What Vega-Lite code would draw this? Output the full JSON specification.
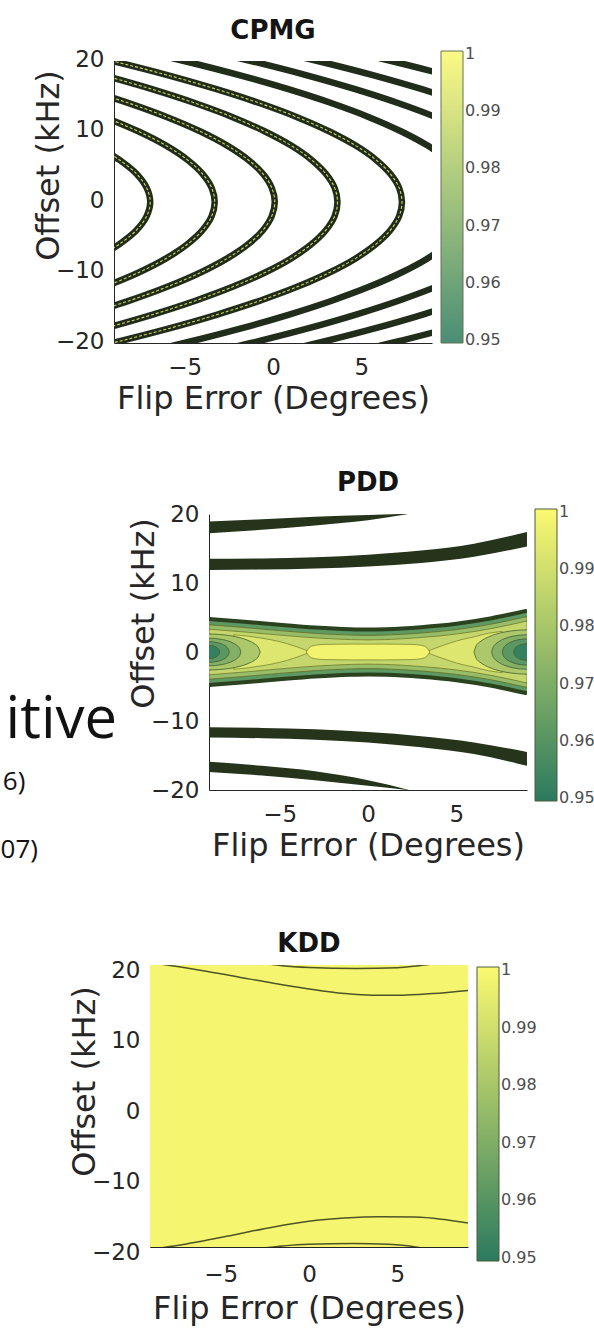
{
  "$schema": "https://vega.github.io/schema/vega-lite/v6.json",
  "padding": {"left": 0, "top": 18, "right": 0, "bottom": 6},
  "spacing": 0,
  "resolve": {"scale": {"color": "independent"}, "legend": {"color": "independent"}},
  "datasets": {
    "cpmg": [
      {"curve": "arc1", "x": -9.35, "y": -7, "fidelity": 0.998},
      {"curve": "arc1", "x": -8.71, "y": -6, "fidelity": 0.998},
      {"curve": "arc1", "x": -7.73, "y": -4, "fidelity": 0.998},
      {"curve": "arc1", "x": -7.15, "y": -2, "fidelity": 0.998},
      {"curve": "arc1", "x": -6.95, "y": 0, "fidelity": 0.998},
      {"curve": "arc1", "x": -7.15, "y": 2, "fidelity": 0.998},
      {"curve": "arc1", "x": -7.73, "y": 4, "fidelity": 0.998},
      {"curve": "arc1", "x": -8.71, "y": 6, "fidelity": 0.998},
      {"curve": "arc1", "x": -9.35, "y": 7, "fidelity": 0.998},

      {"curve": "arc2", "x": -9.49, "y": -12, "fidelity": 0.998},
      {"curve": "arc2", "x": -7.6, "y": -10, "fidelity": 0.998},
      {"curve": "arc2", "x": -6.05, "y": -8, "fidelity": 0.998},
      {"curve": "arc2", "x": -4.85, "y": -6, "fidelity": 0.998},
      {"curve": "arc2", "x": -3.99, "y": -4, "fidelity": 0.998},
      {"curve": "arc2", "x": -3.47, "y": -2, "fidelity": 0.998},
      {"curve": "arc2", "x": -3.3, "y": 0, "fidelity": 0.998},
      {"curve": "arc2", "x": -3.47, "y": 2, "fidelity": 0.998},
      {"curve": "arc2", "x": -3.99, "y": 4, "fidelity": 0.998},
      {"curve": "arc2", "x": -4.85, "y": 6, "fidelity": 0.998},
      {"curve": "arc2", "x": -6.05, "y": 8, "fidelity": 0.998},
      {"curve": "arc2", "x": -7.6, "y": 10, "fidelity": 0.998},
      {"curve": "arc2", "x": -9.49, "y": 12, "fidelity": 0.998},

      {"curve": "arc3", "x": -10.65, "y": -16, "fidelity": 0.998},
      {"curve": "arc3", "x": -8.13, "y": -14, "fidelity": 0.998},
      {"curve": "arc3", "x": -5.95, "y": -12, "fidelity": 0.998},
      {"curve": "arc3", "x": -4.1, "y": -10, "fidelity": 0.998},
      {"curve": "arc3", "x": -2.59, "y": -8, "fidelity": 0.998},
      {"curve": "arc3", "x": -1.41, "y": -6, "fidelity": 0.998},
      {"curve": "arc3", "x": -0.57, "y": -4, "fidelity": 0.998},
      {"curve": "arc3", "x": -0.07, "y": -2, "fidelity": 0.998},
      {"curve": "arc3", "x": 0.1, "y": 0, "fidelity": 0.998},
      {"curve": "arc3", "x": -0.07, "y": 2, "fidelity": 0.998},
      {"curve": "arc3", "x": -0.57, "y": 4, "fidelity": 0.998},
      {"curve": "arc3", "x": -1.41, "y": 6, "fidelity": 0.998},
      {"curve": "arc3", "x": -2.59, "y": 8, "fidelity": 0.998},
      {"curve": "arc3", "x": -4.1, "y": 10, "fidelity": 0.998},
      {"curve": "arc3", "x": -5.95, "y": 12, "fidelity": 0.998},
      {"curve": "arc3", "x": -8.13, "y": 14, "fidelity": 0.998},
      {"curve": "arc3", "x": -10.65, "y": 16, "fidelity": 0.998},

      {"curve": "arc4", "x": -9.63, "y": -18, "fidelity": 0.998},
      {"curve": "arc4", "x": -6.85, "y": -16, "fidelity": 0.998},
      {"curve": "arc4", "x": -4.39, "y": -14, "fidelity": 0.998},
      {"curve": "arc4", "x": -2.25, "y": -12, "fidelity": 0.998},
      {"curve": "arc4", "x": -0.45, "y": -10, "fidelity": 0.998},
      {"curve": "arc4", "x": 1.03, "y": -8, "fidelity": 0.998},
      {"curve": "arc4", "x": 2.17, "y": -6, "fidelity": 0.998},
      {"curve": "arc4", "x": 2.99, "y": -4, "fidelity": 0.998},
      {"curve": "arc4", "x": 3.49, "y": -2, "fidelity": 0.998},
      {"curve": "arc4", "x": 3.65, "y": 0, "fidelity": 0.998},
      {"curve": "arc4", "x": 3.49, "y": 2, "fidelity": 0.998},
      {"curve": "arc4", "x": 2.99, "y": 4, "fidelity": 0.998},
      {"curve": "arc4", "x": 2.17, "y": 6, "fidelity": 0.998},
      {"curve": "arc4", "x": 1.03, "y": 8, "fidelity": 0.998},
      {"curve": "arc4", "x": -0.45, "y": 10, "fidelity": 0.998},
      {"curve": "arc4", "x": -2.25, "y": 12, "fidelity": 0.998},
      {"curve": "arc4", "x": -4.39, "y": 14, "fidelity": 0.998},
      {"curve": "arc4", "x": -6.85, "y": 16, "fidelity": 0.998},
      {"curve": "arc4", "x": -9.63, "y": 18, "fidelity": 0.998},

      {"curve": "arc5", "x": -12.54, "y": -22, "fidelity": 0.998},
      {"curve": "arc5", "x": -9.1, "y": -20, "fidelity": 0.998},
      {"curve": "arc5", "x": -5.98, "y": -18, "fidelity": 0.998},
      {"curve": "arc5", "x": -3.2, "y": -16, "fidelity": 0.998},
      {"curve": "arc5", "x": -0.74, "y": -14, "fidelity": 0.998},
      {"curve": "arc5", "x": 1.4, "y": -12, "fidelity": 0.998},
      {"curve": "arc5", "x": 3.2, "y": -10, "fidelity": 0.998},
      {"curve": "arc5", "x": 4.68, "y": -8, "fidelity": 0.998},
      {"curve": "arc5", "x": 5.82, "y": -6, "fidelity": 0.998},
      {"curve": "arc5", "x": 6.64, "y": -4, "fidelity": 0.998},
      {"curve": "arc5", "x": 7.14, "y": -2, "fidelity": 0.998},
      {"curve": "arc5", "x": 7.3, "y": 0, "fidelity": 0.998},
      {"curve": "arc5", "x": 7.14, "y": 2, "fidelity": 0.998},
      {"curve": "arc5", "x": 6.64, "y": 4, "fidelity": 0.998},
      {"curve": "arc5", "x": 5.82, "y": 6, "fidelity": 0.998},
      {"curve": "arc5", "x": 4.68, "y": 8, "fidelity": 0.998},
      {"curve": "arc5", "x": 3.2, "y": 10, "fidelity": 0.998},
      {"curve": "arc5", "x": 1.4, "y": 12, "fidelity": 0.998},
      {"curve": "arc5", "x": -0.74, "y": 14, "fidelity": 0.998},
      {"curve": "arc5", "x": -3.2, "y": 16, "fidelity": 0.998},
      {"curve": "arc5", "x": -5.98, "y": 18, "fidelity": 0.998},
      {"curve": "arc5", "x": -9.1, "y": 20, "fidelity": 0.998},
      {"curve": "arc5", "x": -12.54, "y": 22, "fidelity": 0.998},

      {"curve": "edgeA", "x": -8.47, "y": -22},
      {"curve": "edgeA", "x": -5.03, "y": -20},
      {"curve": "edgeA", "x": -1.91, "y": -18},
      {"curve": "edgeA", "x": 0.87, "y": -16},
      {"curve": "edgeA", "x": 3.33, "y": -14},
      {"curve": "edgeA", "x": 5.47, "y": -12},
      {"curve": "edgeA", "x": 7.27, "y": -10},
      {"curve": "edgeA", "x": 8.75, "y": -8},
      {"curve": "edgeA", "x": 9.89, "y": -6},
      {"curve": "edgeA", "x": 10.71, "y": -4},
      {"curve": "edgeA", "x": 11.37, "y": 0},
      {"curve": "edgeA", "x": 10.71, "y": 4},
      {"curve": "edgeA", "x": 9.89, "y": 6},
      {"curve": "edgeA", "x": 8.75, "y": 8},
      {"curve": "edgeA", "x": 7.27, "y": 10},
      {"curve": "edgeA", "x": 5.47, "y": 12},
      {"curve": "edgeA", "x": 3.33, "y": 14},
      {"curve": "edgeA", "x": 0.87, "y": 16},
      {"curve": "edgeA", "x": -1.91, "y": 18},
      {"curve": "edgeA", "x": -5.03, "y": 20},
      {"curve": "edgeA", "x": -8.47, "y": 22},

      {"curve": "edgeB", "x": -4.69, "y": -22},
      {"curve": "edgeB", "x": -1.25, "y": -20},
      {"curve": "edgeB", "x": 1.87, "y": -18},
      {"curve": "edgeB", "x": 4.65, "y": -16},
      {"curve": "edgeB", "x": 7.11, "y": -14},
      {"curve": "edgeB", "x": 9.25, "y": -12},
      {"curve": "edgeB", "x": 11.05, "y": -10},
      {"curve": "edgeB", "x": 15.15, "y": 0},
      {"curve": "edgeB", "x": 11.05, "y": 10},
      {"curve": "edgeB", "x": 9.25, "y": 12},
      {"curve": "edgeB", "x": 7.11, "y": 14},
      {"curve": "edgeB", "x": 4.65, "y": 16},
      {"curve": "edgeB", "x": 1.87, "y": 18},
      {"curve": "edgeB", "x": -1.25, "y": 20},
      {"curve": "edgeB", "x": -4.69, "y": 22},

      {"curve": "edgeC", "x": -0.91, "y": -22},
      {"curve": "edgeC", "x": 2.53, "y": -20},
      {"curve": "edgeC", "x": 5.65, "y": -18},
      {"curve": "edgeC", "x": 8.43, "y": -16},
      {"curve": "edgeC", "x": 10.89, "y": -14},
      {"curve": "edgeC", "x": 13.03, "y": -12},
      {"curve": "edgeC", "x": 18.93, "y": 0},
      {"curve": "edgeC", "x": 13.03, "y": 12},
      {"curve": "edgeC", "x": 10.89, "y": 14},
      {"curve": "edgeC", "x": 8.43, "y": 16},
      {"curve": "edgeC", "x": 5.65, "y": 18},
      {"curve": "edgeC", "x": 2.53, "y": 20},
      {"curve": "edgeC", "x": -0.91, "y": 22},

      {"curve": "edgeD", "x": 3.26, "y": -22},
      {"curve": "edgeD", "x": 6.7, "y": -20},
      {"curve": "edgeD", "x": 9.82, "y": -18},
      {"curve": "edgeD", "x": 12.6, "y": -16},
      {"curve": "edgeD", "x": 15.06, "y": -14},
      {"curve": "edgeD", "x": 23.1, "y": 0},
      {"curve": "edgeD", "x": 15.06, "y": 14},
      {"curve": "edgeD", "x": 12.6, "y": 16},
      {"curve": "edgeD", "x": 9.82, "y": 18},
      {"curve": "edgeD", "x": 6.7, "y": 20},
      {"curve": "edgeD", "x": 3.26, "y": 22}
    ],
    "pdd": [
      {"shape": "band1", "x": -9, "y": 18.9, "y2": 17.2},
      {"shape": "band1", "x": -6, "y": 19.25, "y2": 17.7},
      {"shape": "band1", "x": -3, "y": 19.6, "y2": 18.35},
      {"shape": "band1", "x": 0, "y": 19.85, "y2": 19.1},
      {"shape": "band1", "x": 2.4, "y": 20.05, "y2": 20.05},
      {"shape": "band2", "x": -9, "y": 13.5, "y2": 11.9},
      {"shape": "band2", "x": -6, "y": 13.55, "y2": 11.95},
      {"shape": "band2", "x": -3, "y": 13.75, "y2": 12.1},
      {"shape": "band2", "x": 0, "y": 14.1, "y2": 12.4},
      {"shape": "band2", "x": 3, "y": 14.7, "y2": 12.9},
      {"shape": "band2", "x": 6, "y": 15.7, "y2": 13.8},
      {"shape": "band2", "x": 9, "y": 17.4, "y2": 15.3},
      {"shape": "band3", "x": -9, "y": -10.9, "y2": -12.4},
      {"shape": "band3", "x": -6, "y": -11.0, "y2": -12.5},
      {"shape": "band3", "x": -3, "y": -11.2, "y2": -12.7},
      {"shape": "band3", "x": 0, "y": -11.6, "y2": -13.1},
      {"shape": "band3", "x": 3, "y": -12.2, "y2": -13.8},
      {"shape": "band3", "x": 6, "y": -13.1, "y2": -14.8},
      {"shape": "band3", "x": 9, "y": -14.5, "y2": -16.5},
      {"shape": "band4", "x": -9, "y": -15.9, "y2": -17.4},
      {"shape": "band4", "x": -6, "y": -16.5, "y2": -17.9},
      {"shape": "band4", "x": -3, "y": -17.3, "y2": -18.6},
      {"shape": "band4", "x": 0, "y": -18.6, "y2": -19.4},
      {"shape": "band4", "x": 2.4, "y": -20.05, "y2": -20.05},

      {"shape": "A0", "x": -9, "y": 4.8, "y2": -4.8, "fidelity": 0.962},
      {"shape": "A0", "x": -7, "y": 4.4, "y2": -4.4, "fidelity": 0.962},
      {"shape": "A0", "x": -5, "y": 3.95, "y2": -3.95, "fidelity": 0.962},
      {"shape": "A0", "x": -3, "y": 3.55, "y2": -3.55, "fidelity": 0.962},
      {"shape": "A0", "x": -1, "y": 3.3, "y2": -3.3, "fidelity": 0.962},
      {"shape": "A0", "x": 0, "y": 3.25, "y2": -3.25, "fidelity": 0.962},
      {"shape": "A0", "x": 1, "y": 3.3, "y2": -3.3, "fidelity": 0.962},
      {"shape": "A0", "x": 3, "y": 3.6, "y2": -3.6, "fidelity": 0.962},
      {"shape": "A0", "x": 5, "y": 4.1, "y2": -4.1, "fidelity": 0.962},
      {"shape": "A0", "x": 7, "y": 4.9, "y2": -4.9, "fidelity": 0.962},
      {"shape": "A0", "x": 9, "y": 6.0, "y2": -6.0, "fidelity": 0.962},

      {"shape": "rimT", "x": -9, "y": 4.8},
      {"shape": "rimT", "x": -7, "y": 4.4},
      {"shape": "rimT", "x": -5, "y": 3.95},
      {"shape": "rimT", "x": -3, "y": 3.55},
      {"shape": "rimT", "x": -1, "y": 3.3},
      {"shape": "rimT", "x": 0, "y": 3.25},
      {"shape": "rimT", "x": 1, "y": 3.3},
      {"shape": "rimT", "x": 3, "y": 3.6},
      {"shape": "rimT", "x": 5, "y": 4.1},
      {"shape": "rimT", "x": 7, "y": 4.9},
      {"shape": "rimT", "x": 9, "y": 6.0},
      {"shape": "rimB", "x": -9, "y": -4.8},
      {"shape": "rimB", "x": -7, "y": -4.4},
      {"shape": "rimB", "x": -5, "y": -3.95},
      {"shape": "rimB", "x": -3, "y": -3.55},
      {"shape": "rimB", "x": -1, "y": -3.3},
      {"shape": "rimB", "x": 0, "y": -3.25},
      {"shape": "rimB", "x": 1, "y": -3.3},
      {"shape": "rimB", "x": 3, "y": -3.6},
      {"shape": "rimB", "x": 5, "y": -4.1},
      {"shape": "rimB", "x": 7, "y": -4.9},
      {"shape": "rimB", "x": 9, "y": -6.0},

      {"shape": "A1", "x": -9, "y": 3.95, "y2": -3.95, "fidelity": 0.976},
      {"shape": "A1", "x": -7, "y": 3.55, "y2": -3.55, "fidelity": 0.976},
      {"shape": "A1", "x": -5, "y": 3.1, "y2": -3.1, "fidelity": 0.976},
      {"shape": "A1", "x": -3, "y": 2.7, "y2": -2.7, "fidelity": 0.976},
      {"shape": "A1", "x": -1, "y": 2.45, "y2": -2.45, "fidelity": 0.976},
      {"shape": "A1", "x": 0, "y": 2.4, "y2": -2.4, "fidelity": 0.976},
      {"shape": "A1", "x": 1, "y": 2.45, "y2": -2.45, "fidelity": 0.976},
      {"shape": "A1", "x": 3, "y": 2.75, "y2": -2.75, "fidelity": 0.976},
      {"shape": "A1", "x": 5, "y": 3.25, "y2": -3.25, "fidelity": 0.976},
      {"shape": "A1", "x": 7, "y": 4.05, "y2": -4.05, "fidelity": 0.976},
      {"shape": "A1", "x": 9, "y": 5.15, "y2": -5.15, "fidelity": 0.976},

      {"shape": "A2", "x": -9, "y": 3.3, "y2": -3.3, "fidelity": 0.987},
      {"shape": "A2", "x": -7, "y": 2.9, "y2": -2.9, "fidelity": 0.987},
      {"shape": "A2", "x": -5, "y": 2.45, "y2": -2.45, "fidelity": 0.987},
      {"shape": "A2", "x": -3, "y": 2.05, "y2": -2.05, "fidelity": 0.987},
      {"shape": "A2", "x": -1, "y": 1.8, "y2": -1.8, "fidelity": 0.987},
      {"shape": "A2", "x": 0, "y": 1.75, "y2": -1.75, "fidelity": 0.987},
      {"shape": "A2", "x": 1, "y": 1.8, "y2": -1.8, "fidelity": 0.987},
      {"shape": "A2", "x": 3, "y": 2.1, "y2": -2.1, "fidelity": 0.987},
      {"shape": "A2", "x": 5, "y": 2.6, "y2": -2.6, "fidelity": 0.987},
      {"shape": "A2", "x": 7, "y": 3.4, "y2": -3.4, "fidelity": 0.987},
      {"shape": "A2", "x": 9, "y": 4.5, "y2": -4.5, "fidelity": 0.987},

      {"shape": "lobeL", "x": -7.6, "y": 2.5, "y2": -2.5, "fidelity": 0.993},
      {"shape": "lobeL", "x": -6.8, "y": 2.3, "y2": -2.3, "fidelity": 0.993},
      {"shape": "lobeL", "x": -6, "y": 2.0, "y2": -2.0, "fidelity": 0.993},
      {"shape": "lobeL", "x": -5, "y": 1.5, "y2": -1.5, "fidelity": 0.993},
      {"shape": "lobeL", "x": -4.2, "y": 0.9, "y2": -0.9, "fidelity": 0.993},
      {"shape": "lobeL", "x": -3.6, "y": 0.35, "y2": -0.35, "fidelity": 0.993},
      {"shape": "lobeL", "x": -3.3, "y": 0, "y2": 0, "fidelity": 0.993},
      {"shape": "lobeR", "x": 3.3, "y": 0, "y2": 0, "fidelity": 0.993},
      {"shape": "lobeR", "x": 3.6, "y": 0.35, "y2": -0.35, "fidelity": 0.993},
      {"shape": "lobeR", "x": 4.2, "y": 0.9, "y2": -0.9, "fidelity": 0.993},
      {"shape": "lobeR", "x": 5, "y": 1.6, "y2": -1.6, "fidelity": 0.993},
      {"shape": "lobeR", "x": 6, "y": 2.2, "y2": -2.2, "fidelity": 0.993},
      {"shape": "lobeR", "x": 6.8, "y": 2.7, "y2": -2.7, "fidelity": 0.993},
      {"shape": "lobeR", "x": 7.6, "y": 3.0, "y2": -3.0, "fidelity": 0.993},

      {"shape": "core", "x": -3.5, "y": 0, "y2": 0, "fidelity": 0.998},
      {"shape": "core", "x": -3.2, "y": 0.85, "y2": -0.85, "fidelity": 0.998},
      {"shape": "core", "x": -2.5, "y": 1.1, "y2": -1.1, "fidelity": 0.998},
      {"shape": "core", "x": -1, "y": 1.15, "y2": -1.15, "fidelity": 0.998},
      {"shape": "core", "x": 0, "y": 1.15, "y2": -1.15, "fidelity": 0.998},
      {"shape": "core", "x": 1, "y": 1.15, "y2": -1.15, "fidelity": 0.998},
      {"shape": "core", "x": 2.5, "y": 1.1, "y2": -1.1, "fidelity": 0.998},
      {"shape": "core", "x": 3.2, "y": 0.85, "y2": -0.85, "fidelity": 0.998},
      {"shape": "core", "x": 3.5, "y": 0, "y2": 0, "fidelity": 0.998},

      {"shape": "ringL4", "x": -9.2, "y": 2.6, "y2": -2.6, "fidelity": 0.981},
      {"shape": "ringL4", "x": -9, "y": 2.6, "y2": -2.6, "fidelity": 0.981},
      {"shape": "ringL4", "x": -7.84, "y": 2.38, "y2": -2.38, "fidelity": 0.981},
      {"shape": "ringL4", "x": -7.12, "y": 1.98, "y2": -1.98, "fidelity": 0.981},
      {"shape": "ringL4", "x": -6.68, "y": 1.56, "y2": -1.56, "fidelity": 0.981},
      {"shape": "ringL4", "x": -6.39, "y": 1.13, "y2": -1.13, "fidelity": 0.981},
      {"shape": "ringL4", "x": -6.22, "y": 0.73, "y2": -0.73, "fidelity": 0.981},
      {"shape": "ringL4", "x": -6.1, "y": 0, "y2": 0, "fidelity": 0.981},
      {"shape": "ringR4", "x": 6.0, "y": 0, "y2": 0, "fidelity": 0.981},
      {"shape": "ringR4", "x": 6.12, "y": 0.9, "y2": -0.9, "fidelity": 0.981},
      {"shape": "ringR4", "x": 6.3, "y": 1.4, "y2": -1.4, "fidelity": 0.981},
      {"shape": "ringR4", "x": 6.6, "y": 1.92, "y2": -1.92, "fidelity": 0.981},
      {"shape": "ringR4", "x": 7.05, "y": 2.43, "y2": -2.43, "fidelity": 0.981},
      {"shape": "ringR4", "x": 7.8, "y": 2.93, "y2": -2.93, "fidelity": 0.981},
      {"shape": "ringR4", "x": 9, "y": 3.2, "y2": -3.2, "fidelity": 0.981},
      {"shape": "ringR4", "x": 9.2, "y": 3.2, "y2": -3.2, "fidelity": 0.981},

      {"shape": "ringL3", "x": -9.2, "y": 2.0, "y2": -2.0, "fidelity": 0.971},
      {"shape": "ringL3", "x": -9, "y": 2.0, "y2": -2.0, "fidelity": 0.971},
      {"shape": "ringL3", "x": -8.28, "y": 1.83, "y2": -1.83, "fidelity": 0.971},
      {"shape": "ringL3", "x": -7.83, "y": 1.52, "y2": -1.52, "fidelity": 0.971},
      {"shape": "ringL3", "x": -7.56, "y": 1.2, "y2": -1.2, "fidelity": 0.971},
      {"shape": "ringL3", "x": -7.38, "y": 0.87, "y2": -0.87, "fidelity": 0.971},
      {"shape": "ringL3", "x": -7.27, "y": 0.56, "y2": -0.56, "fidelity": 0.971},
      {"shape": "ringL3", "x": -7.2, "y": 0, "y2": 0, "fidelity": 0.971},
      {"shape": "ringR3", "x": 7.0, "y": 0, "y2": 0, "fidelity": 0.971},
      {"shape": "ringR3", "x": 7.08, "y": 0.7, "y2": -0.7, "fidelity": 0.971},
      {"shape": "ringR3", "x": 7.2, "y": 1.09, "y2": -1.09, "fidelity": 0.971},
      {"shape": "ringR3", "x": 7.4, "y": 1.5, "y2": -1.5, "fidelity": 0.971},
      {"shape": "ringR3", "x": 7.7, "y": 1.9, "y2": -1.9, "fidelity": 0.971},
      {"shape": "ringR3", "x": 8.2, "y": 2.29, "y2": -2.29, "fidelity": 0.971},
      {"shape": "ringR3", "x": 9, "y": 2.5, "y2": -2.5, "fidelity": 0.971},
      {"shape": "ringR3", "x": 9.2, "y": 2.5, "y2": -2.5, "fidelity": 0.971},

      {"shape": "ringL2", "x": -9.2, "y": 1.5, "y2": -1.5, "fidelity": 0.961},
      {"shape": "ringL2", "x": -9, "y": 1.5, "y2": -1.5, "fidelity": 0.961},
      {"shape": "ringL2", "x": -8.54, "y": 1.38, "y2": -1.38, "fidelity": 0.961},
      {"shape": "ringL2", "x": -8.25, "y": 1.14, "y2": -1.14, "fidelity": 0.961},
      {"shape": "ringL2", "x": -8.08, "y": 0.9, "y2": -0.9, "fidelity": 0.961},
      {"shape": "ringL2", "x": -7.97, "y": 0.65, "y2": -0.65, "fidelity": 0.961},
      {"shape": "ringL2", "x": -7.9, "y": 0.42, "y2": -0.42, "fidelity": 0.961},
      {"shape": "ringL2", "x": -7.85, "y": 0, "y2": 0, "fidelity": 0.961},
      {"shape": "ringR2", "x": 7.6, "y": 0, "y2": 0, "fidelity": 0.961},
      {"shape": "ringR2", "x": 7.66, "y": 0.53, "y2": -0.53, "fidelity": 0.961},
      {"shape": "ringR2", "x": 7.74, "y": 0.83, "y2": -0.83, "fidelity": 0.961},
      {"shape": "ringR2", "x": 7.88, "y": 1.14, "y2": -1.14, "fidelity": 0.961},
      {"shape": "ringR2", "x": 8.09, "y": 1.44, "y2": -1.44, "fidelity": 0.961},
      {"shape": "ringR2", "x": 8.44, "y": 1.74, "y2": -1.74, "fidelity": 0.961},
      {"shape": "ringR2", "x": 9, "y": 1.9, "y2": -1.9, "fidelity": 0.961},
      {"shape": "ringR2", "x": 9.2, "y": 1.9, "y2": -1.9, "fidelity": 0.961},

      {"shape": "ringL1", "x": -9.2, "y": 0.95, "y2": -0.95, "fidelity": 0.952},
      {"shape": "ringL1", "x": -9, "y": 0.95, "y2": -0.95, "fidelity": 0.952},
      {"shape": "ringL1", "x": -8.76, "y": 0.87, "y2": -0.87, "fidelity": 0.952},
      {"shape": "ringL1", "x": -8.61, "y": 0.72, "y2": -0.72, "fidelity": 0.952},
      {"shape": "ringL1", "x": -8.52, "y": 0.57, "y2": -0.57, "fidelity": 0.952},
      {"shape": "ringL1", "x": -8.46, "y": 0.41, "y2": -0.41, "fidelity": 0.952},
      {"shape": "ringL1", "x": -8.42, "y": 0.27, "y2": -0.27, "fidelity": 0.952},
      {"shape": "ringL1", "x": -8.4, "y": 0, "y2": 0, "fidelity": 0.952},
      {"shape": "ringR1", "x": 8.25, "y": 0, "y2": 0, "fidelity": 0.952},
      {"shape": "ringR1", "x": 8.28, "y": 0.34, "y2": -0.34, "fidelity": 0.952},
      {"shape": "ringR1", "x": 8.33, "y": 0.52, "y2": -0.52, "fidelity": 0.952},
      {"shape": "ringR1", "x": 8.4, "y": 0.72, "y2": -0.72, "fidelity": 0.952},
      {"shape": "ringR1", "x": 8.51, "y": 0.91, "y2": -0.91, "fidelity": 0.952},
      {"shape": "ringR1", "x": 8.7, "y": 1.1, "y2": -1.1, "fidelity": 0.952},
      {"shape": "ringR1", "x": 9, "y": 1.2, "y2": -1.2, "fidelity": 0.952},
      {"shape": "ringR1", "x": 9.2, "y": 1.2, "y2": -1.2, "fidelity": 0.952}
    ],
    "kdd_fill": [
      {"x": -9, "x2": 9, "y": 20, "y2": -20, "fidelity": 0.999}
    ],
    "kdd_lines": [
      {"curve": "top1", "x": -9.2, "y": 20.45},
      {"curve": "top1", "x": -8.05, "y": 20},
      {"curve": "top1", "x": -7, "y": 19.6},
      {"curve": "top1", "x": -6, "y": 19.2},
      {"curve": "top1", "x": -4, "y": 18.3},
      {"curve": "top1", "x": -2, "y": 17.4},
      {"curve": "top1", "x": 0, "y": 16.6},
      {"curve": "top1", "x": 2, "y": 15.95},
      {"curve": "top1", "x": 3.6, "y": 15.7},
      {"curve": "top1", "x": 5, "y": 15.7},
      {"curve": "top1", "x": 7, "y": 15.95},
      {"curve": "top1", "x": 9, "y": 16.4},
      {"curve": "top2", "x": -2.3, "y": 20.15},
      {"curve": "top2", "x": -1.5, "y": 19.9},
      {"curve": "top2", "x": 0, "y": 19.65},
      {"curve": "top2", "x": 2.7, "y": 19.5},
      {"curve": "top2", "x": 5, "y": 19.6},
      {"curve": "top2", "x": 6.2, "y": 19.9},
      {"curve": "top2", "x": 7, "y": 20.15},
      {"curve": "bot1", "x": -9.2, "y": -20.45},
      {"curve": "bot1", "x": -8.05, "y": -20},
      {"curve": "bot1", "x": -7, "y": -19.6},
      {"curve": "bot1", "x": -6, "y": -19.15},
      {"curve": "bot1", "x": -4, "y": -18.15},
      {"curve": "bot1", "x": -2, "y": -17.15},
      {"curve": "bot1", "x": 0, "y": -16.35},
      {"curve": "bot1", "x": 2, "y": -15.9},
      {"curve": "bot1", "x": 4, "y": -15.7},
      {"curve": "bot1", "x": 6, "y": -15.75},
      {"curve": "bot1", "x": 7.5, "y": -16.05},
      {"curve": "bot1", "x": 9, "y": -16.6},
      {"curve": "bot2", "x": -2.6, "y": -20.15},
      {"curve": "bot2", "x": -1.5, "y": -19.85},
      {"curve": "bot2", "x": 0, "y": -19.6},
      {"curve": "bot2", "x": 2.5, "y": -19.5},
      {"curve": "bot2", "x": 4.5, "y": -19.6},
      {"curve": "bot2", "x": 5.7, "y": -19.85},
      {"curve": "bot2", "x": 6.4, "y": -20.15}
    ],
    "slide": [
      {"fragment": "itive", "line": 1, "end": 0.556},
      {"fragment": "6)", "line": 2, "end": 0.113},
      {"fragment": "07)", "line": 3, "end": 0.174}
    ]
  },
  "vconcat": [
    {
      "hconcat": [
        {"width": 112, "height": 409, "data": {"values": []}, "mark": "text"},
        {
          "width": 318,
          "height": 282,
          "title": {"text": "CPMG", "offset": 4},
          "data": {"name": "cpmg"},
          "encoding": {
            "x": {"field": "x", "type": "quantitative", "scale": {"domain": [-9, 9], "nice": false, "zero": false}, "axis": {"values": [-5, 0, 5], "title": "Flip Error (Degrees)", "titleY": 65}},
            "y": {"field": "y", "type": "quantitative", "scale": {"domain": [-20, 20], "nice": false, "zero": false}, "axis": {"values": [-20, -10, 0, 10, 20], "title": "Offset (kHz)", "titleY": 104, "labelOffset": -2}}
          },
          "layer": [
            {
              "mark": {"type": "line", "strokeWidth": 6.5, "color": "#222c1a", "interpolate": "catmull-rom", "clip": true},
              "encoding": {"detail": {"field": "curve"}, "order": {"field": "y"}}
            },
            {
              "transform": [{"filter": "isValid(datum.fidelity)"}],
              "mark": {"type": "line", "strokeWidth": 1.1, "strokeDash": [3, 2], "interpolate": "catmull-rom", "clip": true, "opacity": 0.85},
              "encoding": {
                "detail": {"field": "curve"},
                "order": {"field": "y"},
                "color": {
                  "field": "fidelity", "type": "quantitative",
                  "scale": {"domain": [0.9495, 1.0005], "range": ["#2b7a5f", "#fcf970"], "interpolate": "rgb"},
                  "legend": {"orient": "none", "legendX": 327, "legendY": -10, "direction": "vertical", "gradientLength": 292, "title": null, "values": [0.95, 0.96, 0.97, 0.98, 0.99, 1], "format": "~g"}
                }
              }
            }
          ]
        }
      ],
      "spacing": 0,
      "bounds": "flush",
      "resolve": {"scale": {"color": "independent"}, "legend": {"color": "independent"}}
    },
    {
      "hconcat": [
        {
          "width": 207,
          "height": 417,
          "data": {"name": "slide"},
          "encoding": {
            "x": {"field": "end", "type": "quantitative", "scale": {"domain": [0, 1], "nice": false, "zero": false}, "axis": null},
            "y": {"field": "line", "type": "quantitative", "scale": {"domain": [-2.059, 4.074], "nice": false, "zero": false, "reverse": true}, "axis": null},
            "text": {"field": "fragment"}
          },
          "layer": [
            {
              "transform": [{"filter": "datum.line == 1"}],
              "mark": {"type": "text", "font": "Open Sans", "fontSize": 58, "align": "right", "baseline": "alphabetic", "dy": 16, "color": "#111111"}
            },
            {
              "transform": [{"filter": "datum.line > 1"}],
              "mark": {"type": "text", "font": "Open Sans", "fontSize": 26, "align": "right", "baseline": "alphabetic", "color": "#111111"}
            }
          ]
        },
        {
          "width": 318,
          "height": 276,
          "title": {"text": "PDD", "offset": 7},
          "data": {"name": "pdd"},
          "encoding": {
            "x": {"field": "x", "type": "quantitative", "scale": {"domain": [-9, 9], "nice": false, "zero": false}, "axis": {"values": [-5, 0, 5], "title": "Flip Error (Degrees)", "titleY": 65}},
            "y": {"field": "y", "type": "quantitative", "scale": {"domain": [-20, 20], "nice": false, "zero": false}, "axis": {"values": [-20, -10, 0, 10, 20], "title": "Offset (kHz)", "titleY": 99, "labelOffset": 0}}
          },
          "layer": [
            {
              "transform": [{"filter": {"field": "shape", "oneOf": ["band1", "band2", "band3", "band4"]}}],
              "mark": {"type": "area", "interpolate": "monotone", "clip": true, "color": "#26341b"},
              "encoding": {"y2": {"field": "y2"}, "detail": {"field": "shape"}}
            },
            {
              "transform": [{"filter": {"field": "shape", "equal": "A0"}}],
              "mark": {"type": "area", "interpolate": "monotone", "clip": true},
              "encoding": {
                "y2": {"field": "y2"},
                "color": {
                  "field": "fidelity", "type": "quantitative",
                  "scale": {"domain": [0.9495, 1.0005], "range": ["#2b7a5f", "#fcf970"], "interpolate": "rgb"},
                  "legend": {"orient": "none", "legendX": 326, "legendY": -5, "direction": "vertical", "gradientLength": 292, "title": null, "values": [0.95, 0.96, 0.97, 0.98, 0.99, 1], "format": "~g"}
                }
              }
            },
            {
              "transform": [{"filter": {"field": "shape", "oneOf": ["rimT", "rimB"]}}],
              "mark": {"type": "line", "interpolate": "monotone", "clip": true, "color": "#2b421f", "strokeWidth": 4},
              "encoding": {"detail": {"field": "shape"}}
            },
            {
              "transform": [{"filter": {"field": "shape", "equal": "A1"}}],
              "mark": {"type": "area", "interpolate": "monotone", "clip": true, "stroke": "#5e6c26", "strokeWidth": 0.8},
              "encoding": {"y2": {"field": "y2"}, "color": {"field": "fidelity", "type": "quantitative"}}
            },
            {
              "transform": [{"filter": {"field": "shape", "equal": "A2"}}],
              "mark": {"type": "area", "interpolate": "monotone", "clip": true, "stroke": "#6f7a28", "strokeWidth": 0.8},
              "encoding": {"y2": {"field": "y2"}, "color": {"field": "fidelity", "type": "quantitative"}}
            },
            {
              "transform": [{"filter": {"field": "shape", "oneOf": ["lobeL", "lobeR"]}}],
              "mark": {"type": "area", "interpolate": "monotone", "clip": true, "stroke": "#7d8630", "strokeWidth": 0.8},
              "encoding": {"y2": {"field": "y2"}, "detail": {"field": "shape"}, "color": {"field": "fidelity", "type": "quantitative"}}
            },
            {
              "transform": [{"filter": {"field": "shape", "equal": "core"}}],
              "mark": {"type": "area", "interpolate": "monotone", "clip": true, "stroke": "#7d8630", "strokeWidth": 0.8},
              "encoding": {"y2": {"field": "y2"}, "color": {"field": "fidelity", "type": "quantitative"}}
            },
            {
              "transform": [{"filter": {"field": "shape", "oneOf": ["ringL4", "ringR4"]}}],
              "mark": {"type": "area", "interpolate": "monotone", "clip": true, "stroke": "#3f5f2d", "strokeWidth": 0.8},
              "encoding": {"y2": {"field": "y2"}, "detail": {"field": "shape"}, "color": {"field": "fidelity", "type": "quantitative"}}
            },
            {
              "transform": [{"filter": {"field": "shape", "oneOf": ["ringL3", "ringR3"]}}],
              "mark": {"type": "area", "interpolate": "monotone", "clip": true, "stroke": "#3f5f2d", "strokeWidth": 0.8},
              "encoding": {"y2": {"field": "y2"}, "detail": {"field": "shape"}, "color": {"field": "fidelity", "type": "quantitative"}}
            },
            {
              "transform": [{"filter": {"field": "shape", "oneOf": ["ringL2", "ringR2"]}}],
              "mark": {"type": "area", "interpolate": "monotone", "clip": true, "stroke": "#3f5f2d", "strokeWidth": 0.8},
              "encoding": {"y2": {"field": "y2"}, "detail": {"field": "shape"}, "color": {"field": "fidelity", "type": "quantitative"}}
            },
            {
              "transform": [{"filter": {"field": "shape", "oneOf": ["ringL1", "ringR1"]}}],
              "mark": {"type": "area", "interpolate": "monotone", "clip": true, "stroke": "#3f5f2d", "strokeWidth": 0.8},
              "encoding": {"y2": {"field": "y2"}, "detail": {"field": "shape"}, "color": {"field": "fidelity", "type": "quantitative"}}
            }
          ]
        }
      ],
      "spacing": 0,
      "bounds": "flush",
      "resolve": {"scale": {"color": "independent"}, "legend": {"color": "independent"}}
    },
    {
      "hconcat": [
        {"width": 148, "height": 282, "data": {"values": []}, "mark": "text"},
        {
          "width": 318,
          "height": 282,
          "title": {"text": "KDD", "offset": 2},
          "encoding": {
            "x": {"field": "x", "type": "quantitative", "scale": {"domain": [-9, 9], "nice": false, "zero": false}, "axis": {"values": [-5, 0, 5], "title": "Flip Error (Degrees)", "titleY": 71, "labelPadding": 16}},
            "y": {"field": "y", "type": "quantitative", "scale": {"domain": [-20, 20], "nice": false, "zero": false}, "axis": {"values": [-20, -10, 0, 10, 20], "title": "Offset (kHz)", "titleY": 116, "labelOffset": 5}}
          },
          "layer": [
            {
              "data": {"name": "kdd_fill"},
              "mark": {"type": "rect", "clip": true},
              "encoding": {
                "x2": {"field": "x2"},
                "y2": {"field": "y2"},
                "color": {
                  "field": "fidelity", "type": "quantitative",
                  "scale": {"domain": [0.9495, 1.0005], "range": ["#2b7a5f", "#fcf970"], "interpolate": "rgb"},
                  "legend": {"orient": "none", "legendX": 327, "legendY": 2, "direction": "vertical", "gradientLength": 294, "title": null, "values": [0.95, 0.96, 0.97, 0.98, 0.99, 1], "format": "~g"}
                }
              }
            },
            {
              "data": {"name": "kdd_lines"},
              "mark": {"type": "line", "interpolate": "monotone", "clip": true, "color": "#4f5426", "strokeWidth": 1.5},
              "encoding": {"detail": {"field": "curve"}, "order": {"field": "x"}}
            }
          ]
        }
      ],
      "spacing": 0,
      "bounds": "flush",
      "resolve": {"scale": {"color": "independent"}, "legend": {"color": "independent"}}
    }
  ],
  "config": {
    "view": {"stroke": null},
    "font": "DejaVu Sans",
    "axis": {
      "grid": false,
      "ticks": false,
      "labelFont": "DejaVu Sans",
      "labelFontSize": 23,
      "labelColor": "#262626",
      "titleFont": "DejaVu Sans",
      "titleFontSize": 32,
      "titleFontWeight": "normal",
      "titleColor": "#262626",
      "domainColor": "#262626",
      "domainWidth": 1,
      "labelPadding": 10
    },
    "axisX": {"labelPadding": 13, "titleBaseline": "alphabetic"},
    "axisY": {"titleBaseline": "alphabetic", "titleX": -55.5},
    "title": {"font": "DejaVu Sans", "fontSize": 26, "fontWeight": "bold", "color": "#141414", "anchor": "middle", "frame": "group", "baseline": "alphabetic"},
    "legend": {
      "labelFont": "DejaVu Sans",
      "labelFontSize": 16,
      "labelColor": "#4d4d4d",
      "labelOffset": 3,
      "gradientThickness": 22,
      "gradientStrokeColor": "#4b5a3d",
      "gradientStrokeWidth": 1,
      "padding": 0,
      "labelOverlap": false
    }
  }
}
